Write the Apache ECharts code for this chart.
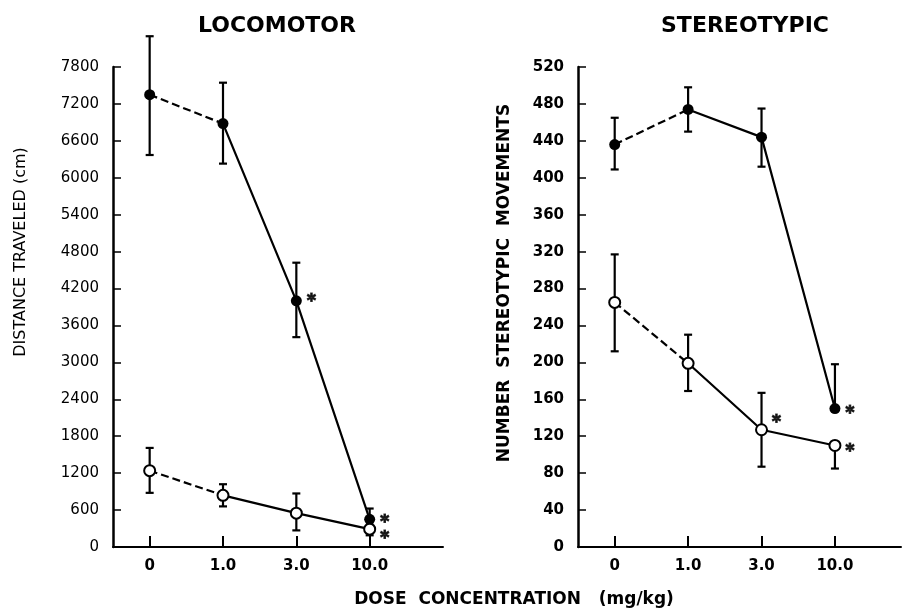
<!DOCTYPE html>
<html><head><meta charset="utf-8">
<script src="https://cdn.jsdelivr.net/npm/echarts@6/dist/echarts.min.js"></script>
<style>html,body{margin:0;padding:0;background:#fff}#c{width:904px;height:609px}</style>
</head><body><div id="c"></div>
<script>
// ---- data ----
const doseLabels = ['0', '1.0', '3.0', '10.0'];
const doseIndex = [0, 1, 2, 3];
const locoTicksMax = 7800, locoTickStep = 600;
const stereoTicksMax = 520, stereoTickStep = 40;

const locoFilled   = [7350, 6880, 4000, 450];
const locoFilledLo = [6370, 6230, 3410, 450];
const locoFilledHi = [8300, 7545, 4620, 625];
const locoOpen     = [1240, 840, 550, 290];
const locoOpenLo   = [880, 660, 270, 190];
const locoOpenHi   = [1610, 1020, 870, 290];

const stereoFilled   = [436, 474, 444, 150];
const stereoFilledLo = [409, 450, 412, 150];
const stereoFilledHi = [465, 498, 475, 198];
const stereoOpen     = [265, 199, 127, 110];
const stereoOpenLo   = [212, 169, 87, 85];
const stereoOpenHi   = [317, 230, 167, 110];

// significance asterisks: [dose index, value]
const locoStars   = [[2, 4076], [3, 483], [3, 223]];
const stereoStars = [[2, 140], [3, 150], [3, 109]];

// ---- helpers ----
const pts = (vals, idx) => (idx || doseIndex).map(i => [doseIndex[i], vals[i]]);
const errData = (lo, hi) => lo.map((l, i) => [doseIndex[i], l, hi[i]]);

function errSeries(ax, lo, hi) {
  return {
    type: 'custom', xAxisIndex: ax, yAxisIndex: ax, clip: false, z: 2, silent: true,
    data: errData(lo, hi),
    renderItem(params, api) {
      const x = api.value(0), l = api.value(1), h = api.value(2);
      const pl = api.coord([x, l]), ph = api.coord([x, h]);
      const cw = 4, st = { stroke: '#000', lineWidth: 2.2 };
      return { type: 'group', children: [
        { type: 'line', shape: { x1: pl[0], y1: pl[1], x2: ph[0], y2: ph[1] }, style: st },
        { type: 'line', shape: { x1: pl[0] - cw, y1: pl[1], x2: pl[0] + cw, y2: pl[1] }, style: st },
        { type: 'line', shape: { x1: ph[0] - cw, y1: ph[1], x2: ph[0] + cw, y2: ph[1] }, style: st }
      ]};
    }
  };
}
function lineSeries(ax, vals, idx, dashed) {
  return { type: 'line', xAxisIndex: ax, yAxisIndex: ax, data: pts(vals, idx), symbol: 'none',
    silent: true, z: 1, lineStyle: { color: '#000', width: 2.2, type: dashed ? [8, 4] : 'solid' } };
}
function markerSeries(ax, vals, open) {
  return { type: 'scatter', xAxisIndex: ax, yAxisIndex: ax, data: pts(vals), symbol: 'circle',
    symbolSize: 11, z: open ? 4 : 3, silent: true,
    itemStyle: open ? { color: '#fff', borderColor: '#000', borderWidth: 2, opacity: 1 } : { color: '#000', opacity: 1 } };
}
function starSeries(ax, stars) {
  return { type: 'scatter', xAxisIndex: ax, yAxisIndex: ax, data: stars, symbolSize: 0, z: 5, silent: true,
    label: { show: true, position: 'inside', formatter: '*', offset: [15, 5], color: '#000',
      textBorderColor: '#000', textBorderWidth: 1.2,
      fontFamily: 'DejaVu Sans', fontWeight: 'bold', fontSize: 17 } };
}
function xAxisCfg(grid, max) {
  return { type: 'value', gridIndex: grid, min: -0.5, max: max,
    axisLine: { show: true, onZero: false, lineStyle: { color: '#000', width: 2 } },
    axisTick: { show: true, inside: true, length: 11, customValues: doseIndex, lineStyle: { color: '#000', width: 2 } },
    axisLabel: { show: true, customValues: doseIndex, formatter: v => doseLabels[Math.round(v)] || '',
      margin: 12, color: '#000', fontFamily: 'DejaVu Sans', fontWeight: 'bold', fontSize: 15 },
    splitLine: { show: false } };
}
function yAxisCfg(grid, max, step, bold) {
  return { type: 'value', gridIndex: grid, min: 0, max: max, interval: step,
    axisLine: { show: true, onZero: false, lineStyle: { color: '#000', width: 2.5 } },
    axisTick: { show: true, inside: true, length: 8, lineStyle: { color: '#000', width: 1.5 } },
    axisLabel: { margin: 14, color: '#000', formatter: v => String(v), fontFamily: 'DejaVu Sans', fontWeight: bold ? 'bold' : 'normal', fontSize: 15 },
    splitLine: { show: false } };
}

const chart = echarts.init(document.getElementById('c'));
const textFont = (w, s) => w + ' ' + s + 'px "DejaVu Sans"';
chart.setOption({
  animation: false,
  backgroundColor: '#fff',
  grid: [
    { left: 113, top: 67, width: 330, height: 480 },
    { left: 578, top: 67, width: 323, height: 480 }
  ],
  xAxis: [xAxisCfg(0, 4), xAxisCfg(1, 3.9)],
  yAxis: [yAxisCfg(0, locoTicksMax, locoTickStep, false), yAxisCfg(1, stereoTicksMax, stereoTickStep, true)],
  graphic: [
    { type: 'text', x: 277, y: 26, style: { text: 'LOCOMOTOR', font: textFont('bold', 22), textAlign: 'center', textVerticalAlign: 'middle', fill: '#000' } },
    { type: 'text', x: 745, y: 26, style: { text: 'STEREOTYPIC', font: textFont('bold', 22), textAlign: 'center', textVerticalAlign: 'middle', fill: '#000' } },
    { type: 'text', x: 21, y: 252, rotation: Math.PI / 2, style: { text: 'DISTANCE TRAVELED (cm)', font: textFont('normal', 16), textAlign: 'center', textVerticalAlign: 'middle', fill: '#000' } },
    { type: 'text', x: 505, y: 283, rotation: Math.PI / 2, style: { text: 'NUMBER  STEREOTYPIC  MOVEMENTS', font: textFont('bold', 17), textAlign: 'center', textVerticalAlign: 'middle', fill: '#000' } },
    { type: 'text', x: 514, y: 600, style: { text: 'DOSE  CONCENTRATION   (mg/kg)', font: textFont('bold', 17), textAlign: 'center', textVerticalAlign: 'middle', fill: '#000' } }
  ],
  series: [
    errSeries(0, locoFilledLo, locoFilledHi),
    errSeries(0, locoOpenLo, locoOpenHi),
    lineSeries(0, locoFilled, [0, 1], true),
    lineSeries(0, locoFilled, [1, 2, 3], false),
    lineSeries(0, locoOpen, [0, 1], true),
    lineSeries(0, locoOpen, [1, 2, 3], false),
    markerSeries(0, locoFilled, false),
    markerSeries(0, locoOpen, true),
    starSeries(0, locoStars),
    errSeries(1, stereoFilledLo, stereoFilledHi),
    errSeries(1, stereoOpenLo, stereoOpenHi),
    lineSeries(1, stereoFilled, [0, 1], true),
    lineSeries(1, stereoFilled, [1, 2, 3], false),
    lineSeries(1, stereoOpen, [0, 1], true),
    lineSeries(1, stereoOpen, [1, 2, 3], false),
    markerSeries(1, stereoFilled, false),
    markerSeries(1, stereoOpen, true),
    starSeries(1, stereoStars)
  ]
});
</script></body></html>
